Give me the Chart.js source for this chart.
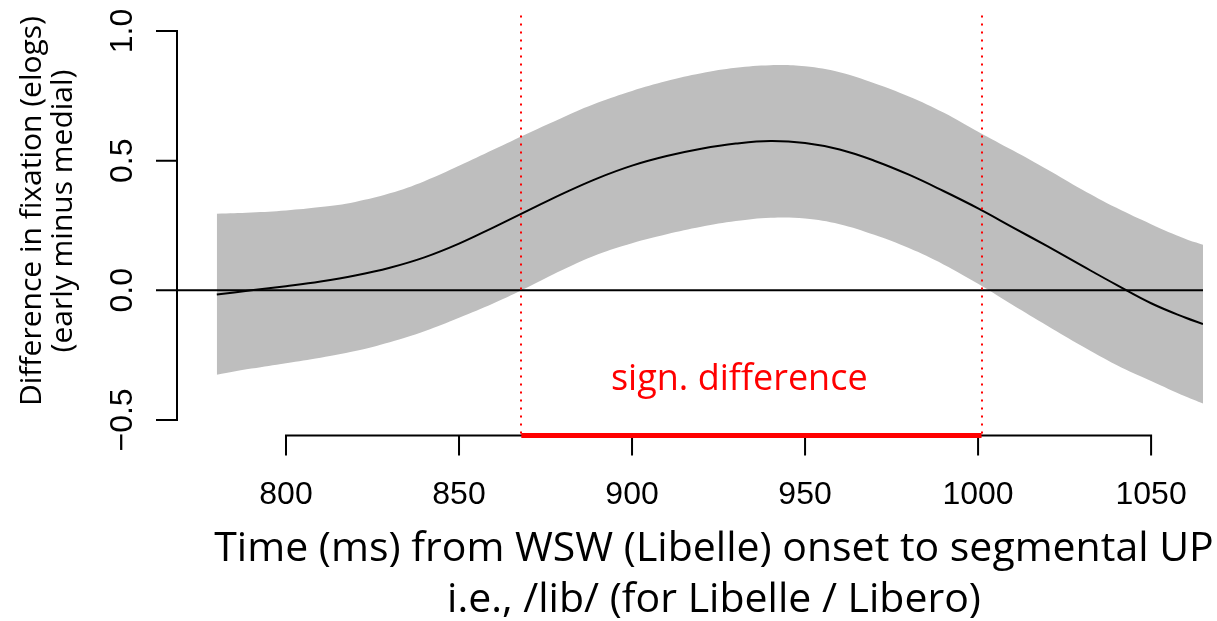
<!DOCTYPE html>
<html>
<head>
<meta charset="utf-8">
<script src="https://cdn.jsdelivr.net/npm/chart.js@4.4.0/dist/chart.umd.min.js"></script>
<style>
    html, body { margin: 0; padding: 0; background: #fff; }
    #wrap { width: 1217px; height: 621px; }
</style>
</head>
<body>
<div id="wrap"><canvas id="diffChart" width="1217" height="621"></canvas></div>
<script>
// time (ms) from WSW onset
var times = [780, 790, 800, 810, 820, 830, 840, 850, 860, 870, 880, 890, 900, 910, 920, 930, 940,
    950, 960, 970, 980, 990, 1000, 1010, 1020, 1030, 1040, 1050, 1060, 1065];
// fitted difference (early minus medial)
var meanDiff = [-0.016, 0.000, 0.016, 0.034, 0.057, 0.087, 0.127, 0.180, 0.243, 0.308, 0.373, 0.432, 0.481,
    0.518, 0.546, 0.566, 0.576, 0.568, 0.543, 0.500, 0.446, 0.383, 0.316, 0.243, 0.170, 0.095, 0.021,
    -0.050, -0.106, -0.130];
// confidence band
var upperCI = [0.295, 0.300, 0.308, 0.321, 0.341, 0.374, 0.421, 0.480, 0.543, 0.606, 0.667, 0.723, 0.769,
    0.807, 0.837, 0.858, 0.868, 0.864, 0.841, 0.799, 0.748, 0.686, 0.612, 0.540, 0.466, 0.389, 0.318,
    0.255, 0.198, 0.176];
var lowerCI = [-0.326, -0.302, -0.281, -0.260, -0.234, -0.200, -0.158, -0.106, -0.050, 0.013, 0.079, 0.138,
    0.182, 0.216, 0.245, 0.267, 0.280, 0.277, 0.255, 0.214, 0.163, 0.100, 0.025, -0.057, -0.137, -0.215,
    -0.288, -0.350, -0.410, -0.437];

var xTicks = [800, 850, 900, 950, 1000, 1050];
var yTicks = [-0.5, 0, 0.5, 1.0];
var yTickLabels = ['\u22120.5', '0.0', '0.5', '1.0'];

// significant window
var sigStart = 868;
var sigEnd = 1001;
var sigLabel = 'sign. difference';
var sigLabelPos = { x: 931, y: -0.345 };

var xTitle = ['Time (ms) from WSW (Libelle) onset to segmental UP', 'i.e., /lib/ (for Libelle / Libero)'];
var yTitle = ['Difference in fixation (elogs)', '(early minus medial)'];

function pts(ys) {
    return times.map(function (t, i) { return { x: t, y: ys[i] }; });
}

// base R style axes, drawn from the chart's own scales
var rAxes = {
    id: 'rAxes',
    afterDatasetsDraw: function (chart) {
        var ctx = chart.ctx, xs = chart.scales.x, ys = chart.scales.y, area = chart.chartArea;
        ctx.save();
        // dotted bounds of significance window
        ctx.strokeStyle = '#ff0000';
        ctx.lineWidth = 2;
        ctx.setLineDash([2, 6]);
        [sigStart, sigEnd].forEach(function (v) {
            var px = Math.round(xs.getPixelForValue(v));
            ctx.beginPath();
            ctx.moveTo(px, area.top);
            ctx.lineTo(px, area.bottom);
            ctx.stroke();
        });
        ctx.setLineDash([]);

        ctx.fillStyle = '#ff0000';
        ctx.font = '36px "Open Sans"';
        ctx.textAlign = 'center';
        ctx.textBaseline = 'middle';
        ctx.fillText(sigLabel, xs.getPixelForValue(sigLabelPos.x), ys.getPixelForValue(sigLabelPos.y));
        ctx.restore();
    },
    afterDraw: function (chart) {
        var ctx = chart.ctx, xs = chart.scales.x, ys = chart.scales.y, area = chart.chartArea;
        var axY = area.bottom, axX = area.left;
        ctx.save();
        ctx.strokeStyle = '#000';
        ctx.lineWidth = 2;
        ctx.lineCap = 'square';

        // x axis
        ctx.beginPath();
        ctx.moveTo(xs.getPixelForValue(xTicks[0]), axY);
        ctx.lineTo(xs.getPixelForValue(xTicks[xTicks.length - 1]), axY);
        xTicks.forEach(function (t) {
            var px = xs.getPixelForValue(t);
            ctx.moveTo(px, axY);
            ctx.lineTo(px, axY + 19);
        });
        // y axis
        ctx.moveTo(axX, ys.getPixelForValue(yTicks[0]));
        ctx.lineTo(axX, ys.getPixelForValue(yTicks[yTicks.length - 1]));
        yTicks.forEach(function (t) {
            var py = ys.getPixelForValue(t);
            ctx.moveTo(axX, py);
            ctx.lineTo(axX - 20, py);
        });
        ctx.stroke();

        // red bar along the x axis
        ctx.strokeStyle = '#ff0000';
        ctx.lineWidth = 5;
        ctx.lineCap = 'butt';
        ctx.beginPath();
        ctx.moveTo(xs.getPixelForValue(sigStart), axY);
        ctx.lineTo(xs.getPixelForValue(sigEnd), axY);
        ctx.stroke();

        ctx.fillStyle = '#000';
        ctx.font = '32px "Liberation Sans"';
        ctx.textAlign = 'center';
        ctx.textBaseline = 'middle';
        xTicks.forEach(function (t) {
            ctx.fillText(String(t), xs.getPixelForValue(t), axY + 60);
        });
        yTicks.forEach(function (t, i) {
            ctx.save();
            ctx.translate(axX - 54, ys.getPixelForValue(t));
            ctx.rotate(-Math.PI / 2);
            ctx.fillText(yTickLabels[i], 0, 0);
            ctx.restore();
        });

        // titles
        ctx.font = '41px "Open Sans"';
        ctx.fillText(xTitle[0], 714, axY + 114);
        ctx.fillText(xTitle[1], 714, axY + 165);

        ctx.font = '30px "Open Sans"';
        ctx.save();
        ctx.translate(32, 211);
        ctx.rotate(-Math.PI / 2);
        ctx.fillText(yTitle[0], 0, 0);
        ctx.fillText(yTitle[1], 0, 31);
        ctx.restore();
        ctx.restore();
    }
};

var el = document.getElementById('diffChart');
new Chart(el.getContext('2d'), {
    type: 'line',
    data: {
        datasets: [
            {
                label: 'mean',
                data: pts(meanDiff),
                borderColor: '#000',
                borderWidth: 2,
                pointRadius: 0,
                tension: 0.4,
                fill: false,
                order: 0
            },
            {
                label: 'zero',
                data: [{ x: 768.5, y: 0 }, { x: 1065, y: 0 }],
                borderColor: '#000',
                borderWidth: 2,
                pointRadius: 0,
                fill: false,
                order: 1
            },
            {
                label: 'upper',
                data: pts(upperCI),
                borderWidth: 0,
                borderColor: 'rgba(0,0,0,0)',
                backgroundColor: '#bebebe',
                pointRadius: 0,
                tension: 0.4,
                fill: '+1',
                order: 3
            },
            {
                label: 'lower',
                data: pts(lowerCI),
                borderWidth: 0,
                borderColor: 'rgba(0,0,0,0)',
                pointRadius: 0,
                tension: 0.4,
                fill: false,
                order: 2
            }
        ]
    },
    options: {
        responsive: false,
        animation: false,
        events: [],
        layout: { padding: { left: 177, right: 14, top: 15.5, bottom: 185.5 } },
        scales: {
            x: { type: 'linear', min: 768.5, max: 1065, display: false },
            y: { type: 'linear', min: -0.56, max: 1.06, display: false }
        },
        plugins: {
            legend: { display: false },
            tooltip: { enabled: false }
        }
    },
    plugins: [rAxes]
});
</script>
</body>
</html>
